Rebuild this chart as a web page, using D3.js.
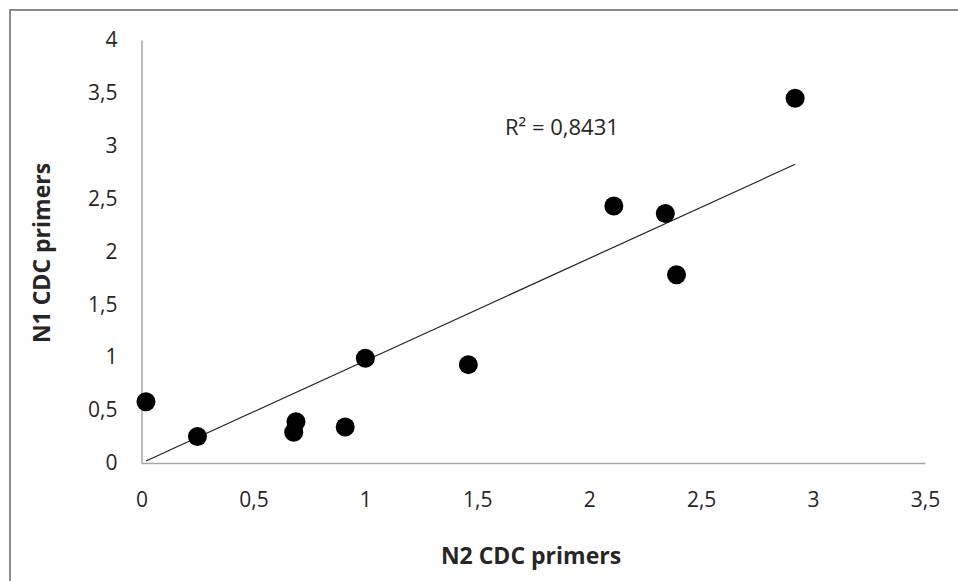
<!DOCTYPE html>
<html>
<head>
<meta charset="utf-8">
<script src="https://cdn.jsdelivr.net/npm/d3@7"></script>
<style>
  body { margin: 0; background: #fff; }
  text { font-family: "Open Sans", sans-serif; fill: #262626; }
</style>
</head>
<body>
<script>
// N2 vs N1 values
let n2 = [0.02, 0.25, 0.69, 0.68, 0.91, 1.00, 1.46, 2.11, 2.34, 2.39, 2.92];
let n1 = [0.58, 0.25, 0.39, 0.29, 0.34, 0.99, 0.93, 2.43, 2.36, 1.78, 3.45];
let xTicks = [0, 0.5, 1, 1.5, 2, 2.5, 3, 3.5];
let yTicks = [0, 0.5, 1, 1.5, 2, 2.5, 3, 3.5, 4];
let r2Label = "R² = 0,8431";

let W = 958, H = 581;
let svg = d3.select('body').append('svg')
      .attr('width', W)
      .attr('height', H);

// outer chart border (runs off the right and bottom edge)
svg.append('path')
  .attr('d', 'M10,' + H + ' V10 H' + W)
  .style('fill', 'none')
  .style('stroke', '#8a8a8a')
  .style('stroke-width', 2);

let x = d3.scaleLinear().domain([0, 3.5]).range([141.5, 925]);
let y = d3.scaleLinear().domain([0, 4]).range([463, 40]);

let comma = d => String(d).replace('.', ',');

let gx = svg.append('g')
  .attr('transform', 'translate(0,' + y(0) + ')')
  .call(d3.axisBottom(x).tickValues(xTicks).tickFormat(comma).tickSize(0).tickSizeOuter(0));
gx.selectAll('text').attr('y', 44).attr('dy', null).style('font-size', '21px');

let gy = svg.append('g')
  .attr('transform', 'translate(' + x(0) + ',0)')
  .call(d3.axisLeft(y).tickValues(yTicks).tickFormat(comma).tickSize(0).tickSizeOuter(0));
gy.selectAll('text').attr('x', -24).style('font-size', '21px');

svg.selectAll('.domain')
  .style('stroke', '#a6a6a6')
  .style('stroke-width', 1.5);

// linear trendline through the origin, fitted to the points
let sxy = d3.sum(n2, (v, i) => v * n1[i]);
let sxx = d3.sum(n2, v => v * v);
let slope = sxy / sxx;
let ext = d3.extent(n2);

let lineDrawer = d3.line()
  .x(d => x(d))
  .y(d => y(slope * d));

svg.append('path')
  .style('fill', 'none')
  .style('stroke', '#222')
  .style('stroke-width', 1.2)
  .attr('d', lineDrawer(ext));

svg.selectAll('circle.pt')
  .data(n2)
  .enter().append('circle')
  .attr('class', 'pt')
  .attr('cx', d => x(d))
  .attr('cy', (d, i) => y(n1[i]))
  .attr('r', 9.5)
  .style('fill', '#000');

svg.append('text')
  .attr('x', 505)
  .attr('y', 135)
  .style('font-size', '22px')
  .text(r2Label);

svg.append('text')
  .attr('x', 531)
  .attr('y', 564)
  .attr('text-anchor', 'middle')
  .style('font-size', '23px')
  .style('font-weight', 'bold')
  .text('N2 CDC primers');

svg.append('text')
  .attr('transform', 'translate(50,253) rotate(-90)')
  .attr('text-anchor', 'middle')
  .style('font-size', '23px')
  .style('font-weight', 'bold')
  .text('N1 CDC primers');
</script>
</body>
</html>
